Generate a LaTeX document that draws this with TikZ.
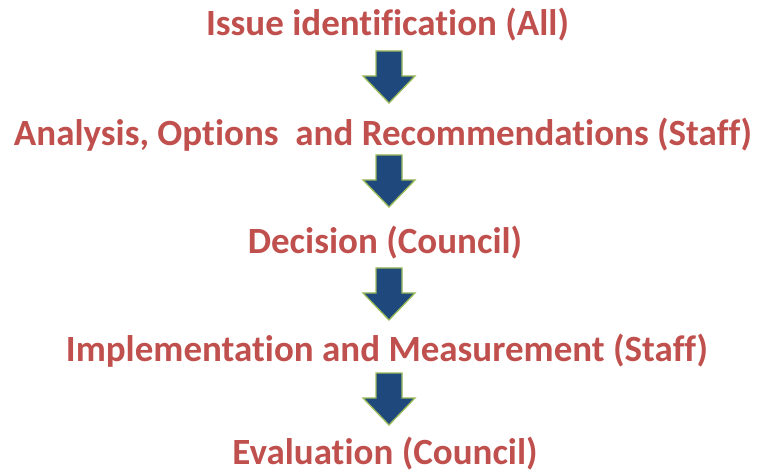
\documentclass[tikz,border=0pt]{standalone}
\usepackage{fontspec}
\setmainfont[Ligatures=CommonOff]{Carlito}
\definecolor{txtred}{HTML}{C0504D}
\definecolor{arrblue}{HTML}{1F497D}
\definecolor{arrgreen}{HTML}{9BBB59}
\tikzset{
  steptext/.style={anchor=base, inner sep=0pt, text=txtred, font=\fontsize{37}{42}\selectfont\bfseries},
  barrow/.style={fill=arrblue, draw=arrgreen, line width=1.3pt, line join=miter}
}
\newcommand\blockarrow[2]{%
  \draw[barrow] (#1-13,#2) -- (#1+13,#2) -- (#1+13,#2+25) -- (#1+26,#2+25) -- (#1,#2+52) -- (#1-26,#2+25) -- (#1-13,#2+25) -- cycle;}
\begin{document}
\begin{tikzpicture}[x=1pt,y=-1pt]
\useasboundingbox (0,0) rectangle (761,473);
\node[steptext] (s1) at (387.5,36) {Issue identification (All)};
\node[steptext] (s2) at (383,146) {Analysis, Options\ \ and Recommendations (Staff)};
\node[steptext] (s3) at (385,254) {Decision (Council)};
\node[steptext] (s4) at (387,361) {Implementation and Measurement (Staff)};
\node[steptext] (s5) at (385,464) {Evaluation (Council)};
\coordinate (a1) at (389,51);
\coordinate (a2) at (389,155);
\coordinate (a3) at (389,268);
\coordinate (a4) at (389,373);
\blockarrow{389}{51}
\blockarrow{389}{155}
\blockarrow{389}{268}
\blockarrow{389}{373}
\end{tikzpicture}
\end{document}
